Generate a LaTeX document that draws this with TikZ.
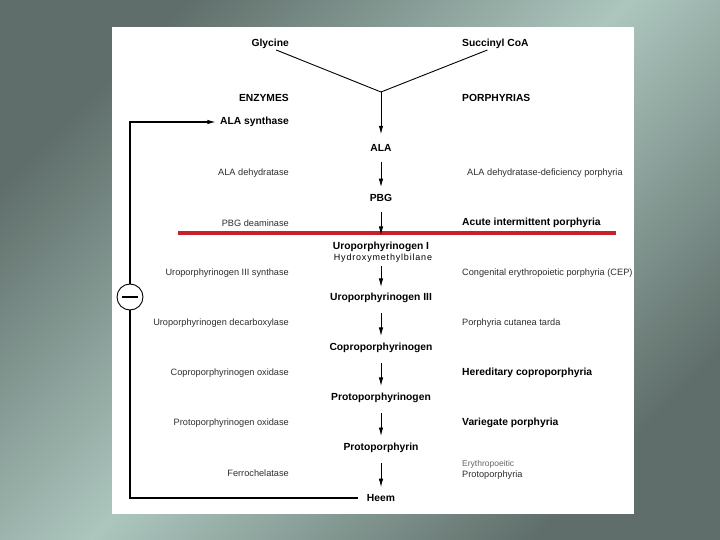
\documentclass[tikz,border=0pt]{standalone}
\usepackage{fontspec}
\setmainfont{Liberation Sans}
\usetikzlibrary{arrows.meta}

\definecolor{slatedark}{HTML}{5F6E6A}
\definecolor{slatelight}{HTML}{ACC6BE}
\definecolor{cutred}{HTML}{C8202A}
\definecolor{lighttext}{HTML}{2E2E2E}

\tikzset{
  metab/.style={font=\fontsize{10.3}{12}\selectfont\bfseries, inner sep=3pt},
  enzbold/.style={font=\fontsize{10.3}{12}\selectfont\bfseries, anchor=east, inner sep=0pt},
  enzlight/.style={font=\fontsize{9.2}{11}\selectfont, text=lighttext, anchor=east, inner sep=0pt},
  porbold/.style={font=\fontsize{10.3}{12}\selectfont\bfseries, anchor=west, inner sep=0pt},
  porlight/.style={font=\fontsize{9.2}{11}\selectfont, text=lighttext, anchor=west, inner sep=0pt},
  arr/.style={-{Latex[length=8.5pt,width=4.5pt]}, line width=0.9pt, shorten <=7pt, shorten >=4pt}
}

\begin{document}
\begin{tikzpicture}[x=1pt,y=-1pt]
\useasboundingbox (0,0) rectangle (720,540);

% Background
\shade[top color=slatedark, bottom color=slatedark, middle color=slatelight, shading angle=45]
  (0,0) rectangle (720,540);
\fill[white] (112,27) rectangle (634,514);

% Precursors
\node[enzbold] (gly) at (289,44) {Glycine};
\node[porbold] (suc) at (462,44) {Succinyl CoA};
\coordinate (join) at (381,92);

% Column headings
\node[enzbold] (enzhead) at (289,98) {ENZYMES};
\node[porbold] (porhead) at (462,98) {PORPHYRIAS};

% Metabolites
\node[metab] (ala) at (381,148) {ALA};
\node[metab] (pbg) at (381,198) {PBG};
\node[metab] (uro1) at (381,247) {Uroporphyrinogen I};
\node[font=\fontsize{9}{10}\selectfont\addfontfeature{LetterSpace=9}, inner sep=1pt] (hmb) at (383,258) {Hydroxymethylbilane};
\node[metab] (uro3) at (381,298) {Uroporphyrinogen III};
\node[metab] (copro) at (381,348) {Coproporphyrinogen};
\node[metab] (protogen) at (381,398) {Protoporphyrinogen};
\node[metab] (proto) at (381,448) {Protoporphyrin};
\node[metab] (heem) at (381,498) {Heem};

% Enzymes
\node[enzbold] (alas) at (289,122) {ALA synthase};
\node[enzlight] (alad) at (289,173) {ALA dehydratase};
\node[enzlight] (pbgd) at (289,223) {PBG deaminase};
\node[enzlight] (uros) at (289,273) {Uroporphyrinogen III synthase};
\node[enzlight] (urod) at (289,323) {Uroporphyrinogen decarboxylase};
\node[enzlight] (cpox) at (289,373) {Coproporphyrinogen oxidase};
\node[enzlight] (ppox) at (289,423) {Protoporphyrinogen oxidase};
\node[enzlight] (fech) at (289,473) {Ferrochelatase};

% Porphyrias
\node[porlight] (aldp) at (467,173) {ALA dehydratase-deficiency porphyria};
\node[porbold] (aip) at (462,223) {Acute intermittent porphyria};
\node[porlight] (cep) at (462,273) {Congenital erythropoietic porphyria (CEP)};
\node[porlight] (pct) at (462,323) {Porphyria cutanea tarda};
\node[porbold] (hcp) at (462,373) {Hereditary coproporphyria};
\node[porbold] (vp) at (462,423) {Variegate porphyria};
\node[anchor=west, inner sep=0pt, font=\fontsize{8.5}{10}\selectfont, text=black!60] (epp1) at (462,464) {Erythropoeitic};
\node[porlight] (epp2) at (462,475) {Protoporphyria};

% Cut line
\draw[cutred, line width=3pt] (178,233) -- (616,233);

% Pathway
\draw[line width=0.9pt] ([xshift=6pt,yshift=-1pt]gly.south) -- (join) -- ([xshift=-8pt,yshift=-1pt]suc.south);
\draw[arr, shorten <=0pt, shorten >=7pt] (join) -- (ala);
\draw[arr] (ala) -- (pbg);
\draw[arr, shorten >=4pt] (pbg) -- (uro1);
\draw[arr, shorten <=3pt, shorten >=3pt] (hmb.south -| uro3.north) -- (uro3);
\draw[arr] (uro3) -- (copro);
\draw[arr] (copro) -- (protogen);
\draw[arr] (protogen) -- (proto);
\draw[arr] (proto) -- (heem);

% Feedback inhibition
\node[draw, circle, line width=0.9pt, minimum size=26pt, inner sep=0pt] (inh) at (130,297) {};
\draw[line width=1.3pt] ([xshift=-8pt]inh.center) -- ([xshift=8pt]inh.center);
\coordinate (fbbot) at (130,498);
\coordinate (fbtop) at (130,122);
\draw[line width=1.2pt] ([xshift=-6pt]heem.west) -- (fbbot) -- (inh.south);
\draw[line width=1.2pt, -{Latex[length=8.5pt,width=4.5pt]}, shorten >=4pt] (inh.north) -- (fbtop) -- (alas.west);

\end{tikzpicture}
\end{document}
